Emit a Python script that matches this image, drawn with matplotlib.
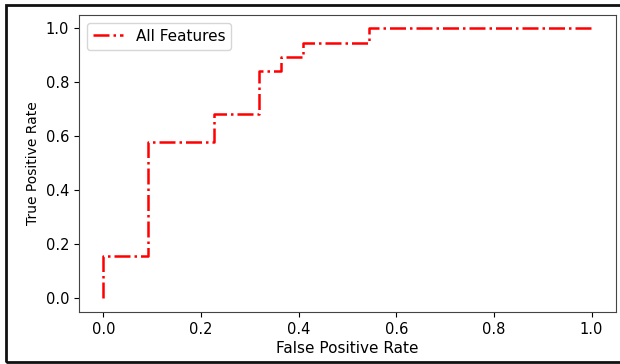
import matplotlib
matplotlib.use("Agg")
import matplotlib.pyplot as plt
from matplotlib.patches import Rectangle

# ROC curve points
fpr = [0.0, 0.0, 0.091, 0.091, 0.227, 0.227, 0.318, 0.318,
       0.364, 0.364, 0.409, 0.409, 0.545, 0.545, 1.0]
tpr = [0.0, 0.158, 0.158, 0.579, 0.579, 0.684, 0.684, 0.842,
       0.842, 0.895, 0.895, 0.947, 0.947, 1.0, 1.0]
label = "All Features"
ticks = [0.0, 0.2, 0.4, 0.6, 0.8, 1.0]

plt.rcParams["font.family"] = "DejaVu Sans"
plt.rcParams["font.size"] = 10

fig = plt.figure(figsize=(6.2, 3.64), dpi=100)
ax = fig.add_axes([0.1274, 0.1429, 0.8661, 0.8159])

ax.plot(fpr, tpr, color="red", linestyle="-.", linewidth=1.8, label=label)
ax.set_xticks(ticks)
ax.set_yticks(ticks)
ax.tick_params(labelsize=10.5)
ax.set_xlabel("False Positive Rate", fontsize=11, labelpad=3)
ax.set_ylabel("True Positive Rate")
ax.legend(loc="upper left", fontsize=11)

for s in ax.spines.values():
    s.set_color("#444444")

# screenshot frame around the picture (right edge cut off)
fig.patches.append(Rectangle((6 / 620, 2 / 364), 1.05, 1 - 7 / 364,
                             transform=fig.transFigure, fill=False,
                             edgecolor="#111111", linewidth=2))

fig.savefig("out.png", dpi=100)
